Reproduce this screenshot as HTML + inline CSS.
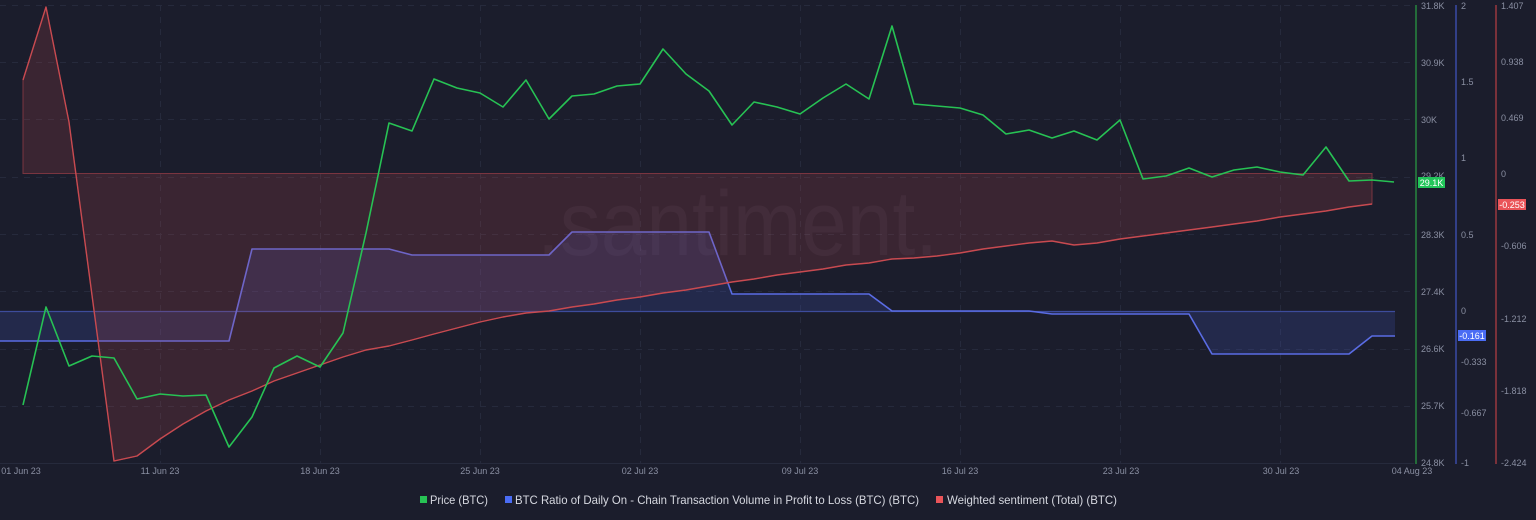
<!DOCTYPE html>
<html>
<head>
<meta charset="utf-8">
<style>
  html, body { margin:0; padding:0; background:#1b1d2c; }
  body { width:1536px; height:520px; overflow:hidden; }
  svg { display:block; font-family:"Liberation Sans", sans-serif; }
  .ax { fill:#8a8fa2; font-size:9px; }
  .dt { fill:#8a8fa2; font-size:9px; }
  .lg { fill:#d6d8e0; font-size:12px; }
</style>
</head>
<body>
<svg width="1536" height="520" viewBox="0 0 1536 520" xmlns="http://www.w3.org/2000/svg">
  <rect x="0" y="0" width="1536" height="520" fill="#1b1d2c"/>

  <!-- horizontal dashed grid -->
  <g stroke="#262a3c" stroke-width="1" stroke-dasharray="6 6">
    <line x1="0" y1="5.5" x2="1414" y2="5.5"/>
    <line x1="0" y1="62.5" x2="1414" y2="62.5"/>
    <line x1="0" y1="119.5" x2="1414" y2="119.5"/>
    <line x1="0" y1="177.5" x2="1414" y2="177.5"/>
    <line x1="0" y1="234.5" x2="1414" y2="234.5"/>
    <line x1="0" y1="291.5" x2="1414" y2="291.5"/>
    <line x1="0" y1="349.5" x2="1414" y2="349.5"/>
    <line x1="0" y1="406.5" x2="1414" y2="406.5"/>
  </g>
  <!-- vertical dashed grid -->
  <g stroke="#262a3c" stroke-width="1" stroke-dasharray="6 6">
    <line x1="160.5" y1="5" x2="160.5" y2="463"/>
    <line x1="320.5" y1="5" x2="320.5" y2="463"/>
    <line x1="480.5" y1="5" x2="480.5" y2="463"/>
    <line x1="640.5" y1="5" x2="640.5" y2="463"/>
    <line x1="800.5" y1="5" x2="800.5" y2="463"/>
    <line x1="960.5" y1="5" x2="960.5" y2="463"/>
    <line x1="1120.5" y1="5" x2="1120.5" y2="463"/>
    <line x1="1280.5" y1="5" x2="1280.5" y2="463"/>
  </g>
  <line x1="0" y1="463.5" x2="1414" y2="463.5" stroke="#262a3c" stroke-width="1"/>

  <!-- watermark -->
  <text x="537" y="255" font-size="92" fill="#ffffff" fill-opacity="0.045" textLength="401" lengthAdjust="spacingAndGlyphs">.santiment.</text>

  <!-- blue series fill -->
  <polygon fill="rgb(80,100,230)" fill-opacity="0.17"
    points="0,311 0,341 229,341 252,249 389,249 412,255 549,255 572,232 709,232 732,294 869,294 892,311 1029,311 1052,314 1189,314 1212,354 1349,354 1372,336 1395,336 1395,311"/>
  <line x1="0" y1="311.5" x2="1395" y2="311.5" stroke="#3d4c9c" stroke-width="1.3"/>
  <polyline fill="none" stroke="#5a6ce4" stroke-width="1.6" stroke-linejoin="round"
    points="0,341 229,341 252,249 389,249 412,255 549,255 572,232 709,232 732,294 869,294 892,311 1029,311 1052,314 1189,314 1212,354 1349,354 1372,336 1395,336"/>

  <!-- red series fill -->
  <polygon fill="rgb(194,75,79)" fill-opacity="0.19" stroke="#7a3540" stroke-width="1"
    points="23,173.5 23,80 46,7 69,122 114,461 137,456 160,439 183,424 206,411 229,400 252,391 274,381 297,373 320,365 343,357 366,350 389,346 412,340 434,334 457,328 480,322 503,317 526,313 549,311 572,307 594,304 617,300 640,297 663,293 686,290 709,286 732,282 754,279 777,275 800,272 823,269 846,265 869,263 892,259 914,258 937,256 960,253 983,249 1006,246 1029,243 1052,241 1074,245 1097,243 1120,239 1143,236 1166,233 1189,230 1212,227 1234,224 1257,221 1280,217 1303,214 1326,211 1349,207 1372,204 1372,173.5"/>
  <polyline fill="none" stroke="#c84a50" stroke-width="1.4" stroke-linejoin="round"
    points="23,80 46,7 69,122 114,461 137,456 160,439 183,424 206,411 229,400 252,391 274,381 297,373 320,365 343,357 366,350 389,346 412,340 434,334 457,328 480,322 503,317 526,313 549,311 572,307 594,304 617,300 640,297 663,293 686,290 709,286 732,282 754,279 777,275 800,272 823,269 846,265 869,263 892,259 914,258 937,256 960,253 983,249 1006,246 1029,243 1052,241 1074,245 1097,243 1120,239 1143,236 1166,233 1189,230 1212,227 1234,224 1257,221 1280,217 1303,214 1326,211 1349,207 1372,204"/>

  <!-- green price line -->
  <polyline fill="none" stroke="#27c254" stroke-width="1.6" stroke-linejoin="round"
    points="23,405 46,307 69,366 92,356 114,358 137,399 160,394 183,396 206,395 229,447 252,417 274,368 297,356 320,367 343,333 366,233 389,123 412,131 434,79 457,88 480,93 503,107 526,80 549,119 572,96 594,94 617,86 640,84 663,49 686,74 709,91 732,125 754,102 777,107 800,114 823,98 846,84 869,99 892,26 914,104 937,106 960,108 983,115 1006,134 1029,130 1052,138 1074,131 1097,140 1120,120 1143,179 1166,176 1189,168 1212,177 1234,170 1257,167 1280,172 1303,175 1326,147 1349,181 1372,180 1394,182"/>

  <!-- axes -->
  <line x1="1416" y1="5" x2="1416" y2="464" stroke="#27873f" stroke-width="1.5"/>
  <line x1="1456" y1="5" x2="1456" y2="464" stroke="#3b4ba6" stroke-width="1.5"/>
  <line x1="1496" y1="5" x2="1496" y2="464" stroke="#9a383e" stroke-width="1.5"/>

  <!-- green axis labels -->
  <g class="ax" dominant-baseline="central">
    <text x="1421" y="6">31.8K</text>
    <text x="1421" y="63">30.9K</text>
    <text x="1421" y="120">30K</text>
    <text x="1421" y="176">29.2K</text>
    <text x="1421" y="235">28.3K</text>
    <text x="1421" y="292">27.4K</text>
    <text x="1421" y="349">26.6K</text>
    <text x="1421" y="406">25.7K</text>
    <text x="1421" y="463">24.8K</text>
  </g>
  <!-- blue axis labels -->
  <g class="ax" dominant-baseline="central">
    <text x="1461" y="6">2</text>
    <text x="1461" y="82">1.5</text>
    <text x="1461" y="158">1</text>
    <text x="1461" y="235">0.5</text>
    <text x="1461" y="311">0</text>
    <text x="1461" y="362">-0.333</text>
    <text x="1461" y="413">-0.667</text>
    <text x="1461" y="463">-1</text>
  </g>
  <!-- red axis labels -->
  <g class="ax" dominant-baseline="central">
    <text x="1501" y="6">1.407</text>
    <text x="1501" y="62">0.938</text>
    <text x="1501" y="118">0.469</text>
    <text x="1501" y="174">0</text>
    <text x="1501" y="246">-0.606</text>
    <text x="1501" y="319">-1.212</text>
    <text x="1501" y="391">-1.818</text>
    <text x="1501" y="463">-2.424</text>
  </g>

  <!-- badges -->
  <rect x="1418" y="177" width="27" height="11" fill="#22c55a"/>
  <text x="1431.5" y="182.8" font-size="9" fill="#ffffff" text-anchor="middle" dominant-baseline="central">29.1K</text>
  <rect x="1458" y="330" width="28" height="11" fill="#4a6cf4"/>
  <text x="1472" y="335.8" font-size="9" fill="#ffffff" text-anchor="middle" dominant-baseline="central">-0.161</text>
  <rect x="1498" y="199" width="28" height="11" fill="#ea5459"/>
  <text x="1512" y="204.8" font-size="9" fill="#ffffff" text-anchor="middle" dominant-baseline="central">-0.253</text>

  <!-- date labels -->
  <g class="dt" text-anchor="middle" dominant-baseline="central">
    <text x="21" y="471">01 Jun 23</text>
    <text x="160" y="471">11 Jun 23</text>
    <text x="320" y="471">18 Jun 23</text>
    <text x="480" y="471">25 Jun 23</text>
    <text x="640" y="471">02 Jul 23</text>
    <text x="800" y="471">09 Jul 23</text>
    <text x="960" y="471">16 Jul 23</text>
    <text x="1121" y="471">23 Jul 23</text>
    <text x="1281" y="471">30 Jul 23</text>
    <text x="1412" y="471">04 Aug 23</text>
  </g>

  <!-- legend -->
  <rect x="420" y="496" width="7" height="7" fill="#27c254"/>
  <text class="lg" x="430" y="500" dominant-baseline="central" textLength="58" lengthAdjust="spacingAndGlyphs">Price (BTC)</text>
  <rect x="505" y="496" width="7" height="7" fill="#4a6cf4"/>
  <text class="lg" x="515" y="500" dominant-baseline="central" textLength="404" lengthAdjust="spacingAndGlyphs">BTC Ratio of Daily On - Chain Transaction Volume in Profit to Loss (BTC) (BTC)</text>
  <rect x="936" y="496" width="7" height="7" fill="#ea5459"/>
  <text class="lg" x="947" y="500" dominant-baseline="central" textLength="170" lengthAdjust="spacingAndGlyphs">Weighted sentiment (Total) (BTC)</text>
</svg>
</body>
</html>
